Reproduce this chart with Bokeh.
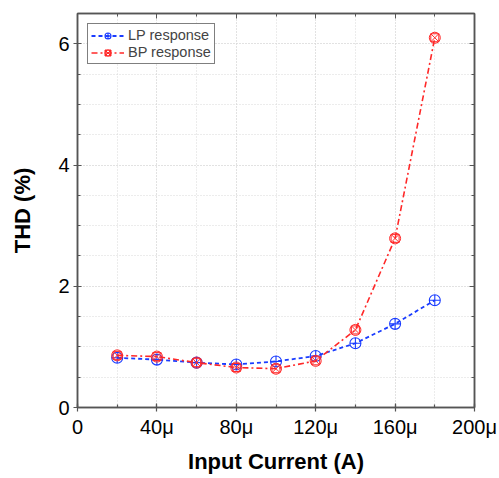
from bokeh.plotting import figure
from bokeh.models import LinearAxis, FixedTicker, Range1d, Legend, LegendItem, CustomLabelingPolicy
from bokeh.embed import file_html
from bokeh.resources import INLINE

current_uA = [20, 40, 60, 80, 100, 120, 140, 160, 180]
lp_thd = [0.82, 0.79, 0.74, 0.71, 0.76, 0.85, 1.06, 1.38, 1.77]
bp_thd = [0.86, 0.84, 0.74, 0.66, 0.64, 0.77, 1.28, 2.79, 6.10]
x_ticks = [0, 40, 80, 120, 160, 200]
x_tick_labels = ["0", "40μ", "80μ", "120μ", "160μ", "200μ"]
y_ticks = [0, 2, 4, 6]

FONT = "Liberation Sans"
BLUE = "#1a3cff"
RED = "#ff2828"
AXC = "#555555"

p = figure(width=499, height=478, output_backend="svg", toolbar_location=None,
           x_range=Range1d(0, 200), y_range=Range1d(0, 6.5),
           min_border_left=77, min_border_right=25, min_border_top=13, min_border_bottom=71,
           x_axis_label="Input Current (A)", y_axis_label="THD (%)")
p.outline_line_color = AXC
p.outline_line_width = 1.5
p.background_fill_color = "white"
p.border_fill_color = "white"

for ax in p.xaxis:
    ax.ticker = FixedTicker(ticks=x_ticks, minor_ticks=list(range(0, 201, 20)))
    ax.major_label_overrides = {t: l for t, l in zip(x_ticks, x_tick_labels)}
for ax in p.yaxis:
    ax.ticker = FixedTicker(ticks=y_ticks, minor_ticks=[i * 0.5 for i in range(14)])

for ax in list(p.xaxis) + list(p.yaxis):
    ax.axis_line_color = AXC
    ax.axis_line_width = 1.5
    ax.major_tick_line_color = AXC
    ax.minor_tick_line_color = AXC
    ax.major_tick_line_width = 1.2
    ax.minor_tick_line_width = 1.2
    ax.major_tick_out = 4
    ax.major_tick_in = 4
    ax.minor_tick_in = 3
    ax.minor_tick_out = 0
    ax.major_label_text_font = FONT
    ax.major_label_text_font_size = "20px"
    ax.major_label_text_color = "black"
    ax.axis_label_text_font = FONT
    ax.axis_label_text_font_size = "22px"
    ax.axis_label_text_font_style = "bold"
    ax.axis_label_text_color = "black"
    ax.major_label_standoff = 4
p.xaxis.axis_label_standoff = 8
p.yaxis.axis_label_standoff = 20

# right and top axes (ticks only, no labels)
no_labels = "for (const i of indices) { indices.unset(i) } return indices"
right = LinearAxis(ticker=FixedTicker(ticks=y_ticks, minor_ticks=[i * 0.5 for i in range(14)]),
                   major_label_policy=CustomLabelingPolicy(code=no_labels))
top = LinearAxis(ticker=FixedTicker(ticks=x_ticks, minor_ticks=list(range(0, 201, 20))),
                 major_label_policy=CustomLabelingPolicy(code=no_labels))
for ax in (right, top):
    ax.axis_line_color = AXC
    ax.axis_line_width = 1.5
    ax.major_tick_line_color = AXC
    ax.minor_tick_line_color = AXC
    ax.major_tick_in = 5
    ax.major_tick_out = 0
    ax.minor_tick_in = 3
    ax.minor_tick_out = 0
    ax.major_label_standoff = 0
p.add_layout(right, "right")
p.add_layout(top, "above")

for g in (p.xgrid[0], p.ygrid[0]):
    g.grid_line_color = "#d8d8d8"
    g.grid_line_dash = "1 2"
    g.grid_line_width = 1
    g.minor_grid_line_color = "#d8d8d8"
    g.minor_grid_line_dash = "1 2"
    g.minor_grid_line_width = 1

l1 = p.line(current_uA, lp_thd, line_color=BLUE, line_width=1.8, line_dash="4 3")
m1a = p.scatter(current_uA, lp_thd, marker="circle_cross", size=11, line_color=BLUE,
                fill_color=None, line_width=1.1)

l2 = p.line(current_uA, bp_thd, line_color=RED, line_width=1.6, line_dash="6 3 2 3")
m2a = p.scatter(current_uA, bp_thd, marker="circle", size=11, line_color=RED,
                fill_color=None, line_width=1.0)
m2b = p.scatter(current_uA, bp_thd, marker="square_x", size=8, line_color=RED,
                fill_color=None, line_width=1.0)

legend = Legend(items=[LegendItem(label="LP response", renderers=[l1, m1a]),
                       LegendItem(label="BP response", renderers=[l2, m2a, m2b])],
                location="top_left")
legend.border_line_color = "black"
legend.border_line_width = 1
legend.label_text_font = FONT
legend.label_text_font_size = "14.5px"
legend.label_height = 15
legend.glyph_height = 15
legend.glyph_width = 33
legend.spacing = 1
legend.padding = 3
legend.margin = 10
legend.label_standoff = 4
p.add_layout(legend)

open("out.html", "w").write(file_html(p, INLINE))
